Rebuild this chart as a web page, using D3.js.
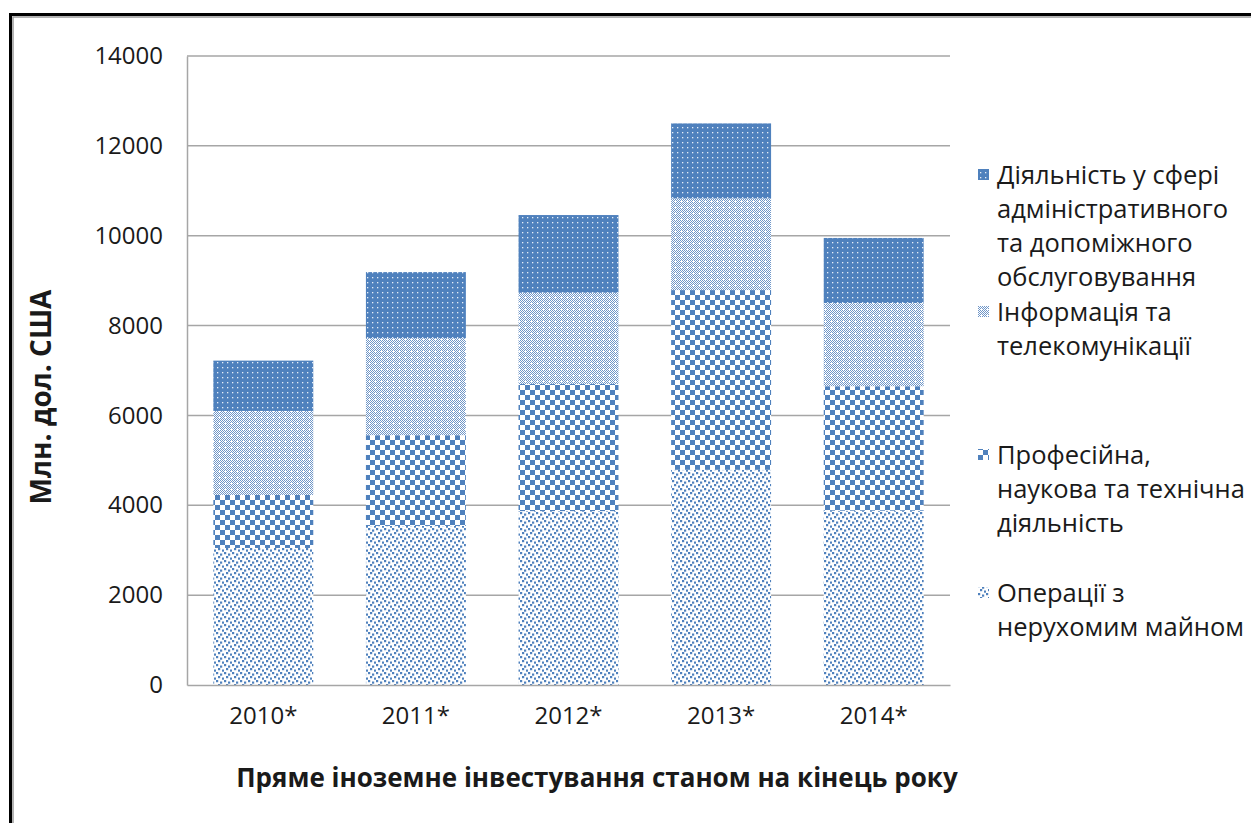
<!DOCTYPE html>
<html>
<head>
<meta charset="utf-8">
<script src="https://cdnjs.cloudflare.com/ajax/libs/d3/7.8.5/d3.min.js"></script>
<style>
  body { margin: 0; background: #fff; }
  text { font-family: "Open Sans", sans-serif; fill: #1a1a1a; }
</style>
</head>
<body>
<script>
// data (млн. дол. США)
var years = ["2010*", "2011*", "2012*", "2013*", "2014*"];
var realEstate = [3050, 3540, 3870, 4790, 3880];   // Операції з нерухомим майном
var professional = [1180, 2020, 2830, 4000, 2770]; // Професійна, наукова та технічна діяльність
var infoTelecom = [1870, 2160, 2030, 2040, 1850];  // Інформація та телекомунікації
var adminSupport = [1120, 1470, 1730, 1670, 1450]; // Діяльність у сфері адміністративного ...
var yTicks = [0, 2000, 4000, 6000, 8000, 10000, 12000, 14000];

var seriesKeys = ["real", "prof", "info", "admin"];
var seriesLabels = {
  admin: ["Діяльність у сфері", "адміністративного", "та допоміжного", "обслуговування"],
  info: ["Інформація та", "телекомунікації"],
  prof: ["Професійна,", "наукова та технічна", "діяльність"],
  real: ["Операції з", "нерухомим майном"]
};

var blue = "#4f81bd";

let rows = years.map(function (y, i) {
  return { year: y, real: realEstate[i], prof: professional[i], info: infoTelecom[i], admin: adminSupport[i] };
});
let stacked = d3.stack().keys(seriesKeys)(rows);

let svg = d3.select("body").append("svg")
  .attr("width", 1251)
  .attr("height", 823);

// patterns
let defs = svg.append("defs");

let pReal = defs.append("pattern").attr("id", "p-real")
  .attr("patternUnits", "userSpaceOnUse").attr("width", 8).attr("height", 8);
pReal.append("rect").attr("width", 8).attr("height", 8).attr("fill", "#fff");
[[0, 0], [4, 1.5], [2, 4], [6, 5.5]].forEach(function (p) {
  pReal.append("rect").attr("x", p[0]).attr("y", p[1]).attr("width", 2.2).attr("height", 2.2).attr("fill", blue);
});

let pProf = defs.append("pattern").attr("id", "p-prof")
  .attr("patternUnits", "userSpaceOnUse").attr("width", 10).attr("height", 10);
pProf.append("rect").attr("width", 10).attr("height", 10).attr("fill", "#fff");
pProf.append("rect").attr("width", 5).attr("height", 5).attr("fill", blue);
pProf.append("rect").attr("x", 5).attr("y", 5).attr("width", 5).attr("height", 5).attr("fill", blue);

let pInfo = defs.append("pattern").attr("id", "p-info")
  .attr("patternUnits", "userSpaceOnUse").attr("width", 6).attr("height", 6);
pInfo.append("rect").attr("width", 6).attr("height", 6).attr("fill", "#fff");
for (let i = 0; i < 6; i++) {
  for (let j = 0; j < 6; j++) {
    if ((i + j) % 2 == 0) {
      pInfo.append("rect").attr("x", i).attr("y", j).attr("width", 1).attr("height", 1).attr("fill", "#6f96c8");
    }
  }
}
pInfo.append("rect").attr("x", 2).attr("y", 3).attr("width", 3).attr("height", 1).attr("fill", "#fff");
pInfo.append("rect").attr("x", 3).attr("y", 2).attr("width", 1).attr("height", 3).attr("fill", "#fff");

let pAdmin = defs.append("pattern").attr("id", "p-admin")
  .attr("patternUnits", "userSpaceOnUse").attr("width", 5).attr("height", 5);
pAdmin.append("rect").attr("width", 5).attr("height", 5).attr("fill", blue);
pAdmin.append("rect").attr("x", 2).attr("y", 2).attr("width", 1.3).attr("height", 1.3).attr("fill", "#e8eef7");

// frame around the picture
svg.append("path").attr("d", "M10.5,823 V14.5 H1251")
  .attr("fill", "none").attr("stroke", "#000").attr("stroke-width", 3);
svg.append("path").attr("d", "M13,823 V17 H1251")
  .attr("fill", "none").attr("stroke", "#9a9a9a").attr("stroke-width", 1.5);

let x = d3.scaleBand()
  .domain(years)
  .range([187, 950])
  .paddingInner(0.345)
  .paddingOuter(0.1725);

let y = d3.scaleLinear()
  .domain([0, 14000])
  .range([685, 56]);

// gridlines
svg.append("g")
  .selectAll("line")
  .data(yTicks.slice(1))
  .enter().append("line")
  .attr("x1", 187).attr("x2", 950)
  .attr("y1", function (d) { return y(d); })
  .attr("y2", function (d) { return y(d); })
  .attr("stroke", "#a6a6a6")
  .attr("stroke-width", 1.5);

// bars
svg.append("g")
  .selectAll("g")
  .data(stacked)
  .enter().append("g")
  .attr("fill", function (d) { return "url(#p-" + d.key + ")"; })
  .selectAll("rect")
  .data(function (d) { return d; })
  .enter().append("rect")
  .attr("x", function (d) { return x(d.data.year); })
  .attr("y", function (d) { return y(d[1]); })
  .attr("width", x.bandwidth())
  .attr("height", function (d) { return y(d[0]) - y(d[1]); });

// axes
let yAxis = svg.append("g")
  .attr("transform", "translate(187,0)")
  .call(d3.axisLeft(y).tickValues(yTicks).tickSize(0).tickPadding(24).tickFormat(d3.format("d")));
yAxis.select(".domain").attr("stroke", "#a6a6a6").attr("stroke-width", 1.5);
yAxis.selectAll("text").style("font-size", "24px").attr("fill", "#111");

let xAxis = svg.append("g")
  .attr("transform", "translate(0,685)")
  .call(d3.axisBottom(x).tickSize(0).tickPadding(22));
xAxis.select(".domain").attr("stroke", "#a6a6a6").attr("stroke-width", 1.5);
xAxis.selectAll("text").style("font-size", "24px").attr("fill", "#111");

// axis titles
svg.append("text")
  .attr("transform", "translate(41,397) rotate(-90)")
  .attr("text-anchor", "middle")
  .attr("dy", "0.35em")
  .style("font-size", "28px")
  .style("font-weight", "bold")
  .text("Млн. дол. США");

svg.append("text")
  .attr("x", 597)
  .attr("y", 778)
  .attr("dy", "0.35em")
  .attr("text-anchor", "middle")
  .style("font-size", "26px")
  .style("font-weight", "bold")
  .text("Пряме іноземне інвестування станом на кінець року");

// legend
let legendTop = { admin: 175, info: 312, prof: 455, real: 593 };
let legend = svg.append("g")
  .selectAll("g")
  .data(seriesKeys.slice().reverse())
  .enter().append("g")
  .attr("transform", function (d) { return "translate(978," + legendTop[d] + ")"; });

legend.append("rect")
  .attr("x", 0).attr("y", -6)
  .attr("width", 11).attr("height", 11)
  .attr("fill", function (d) { return "url(#p-" + d + ")"; });

legend.append("text")
  .attr("x", 19)
  .style("font-size", "25.5px")
  .selectAll("tspan")
  .data(function (d) { return seriesLabels[d]; })
  .enter().append("tspan")
  .attr("x", 19)
  .attr("y", function (d, i) { return i * 34; })
  .attr("dy", "0.35em")
  .text(String);
</script>
</body>
</html>
